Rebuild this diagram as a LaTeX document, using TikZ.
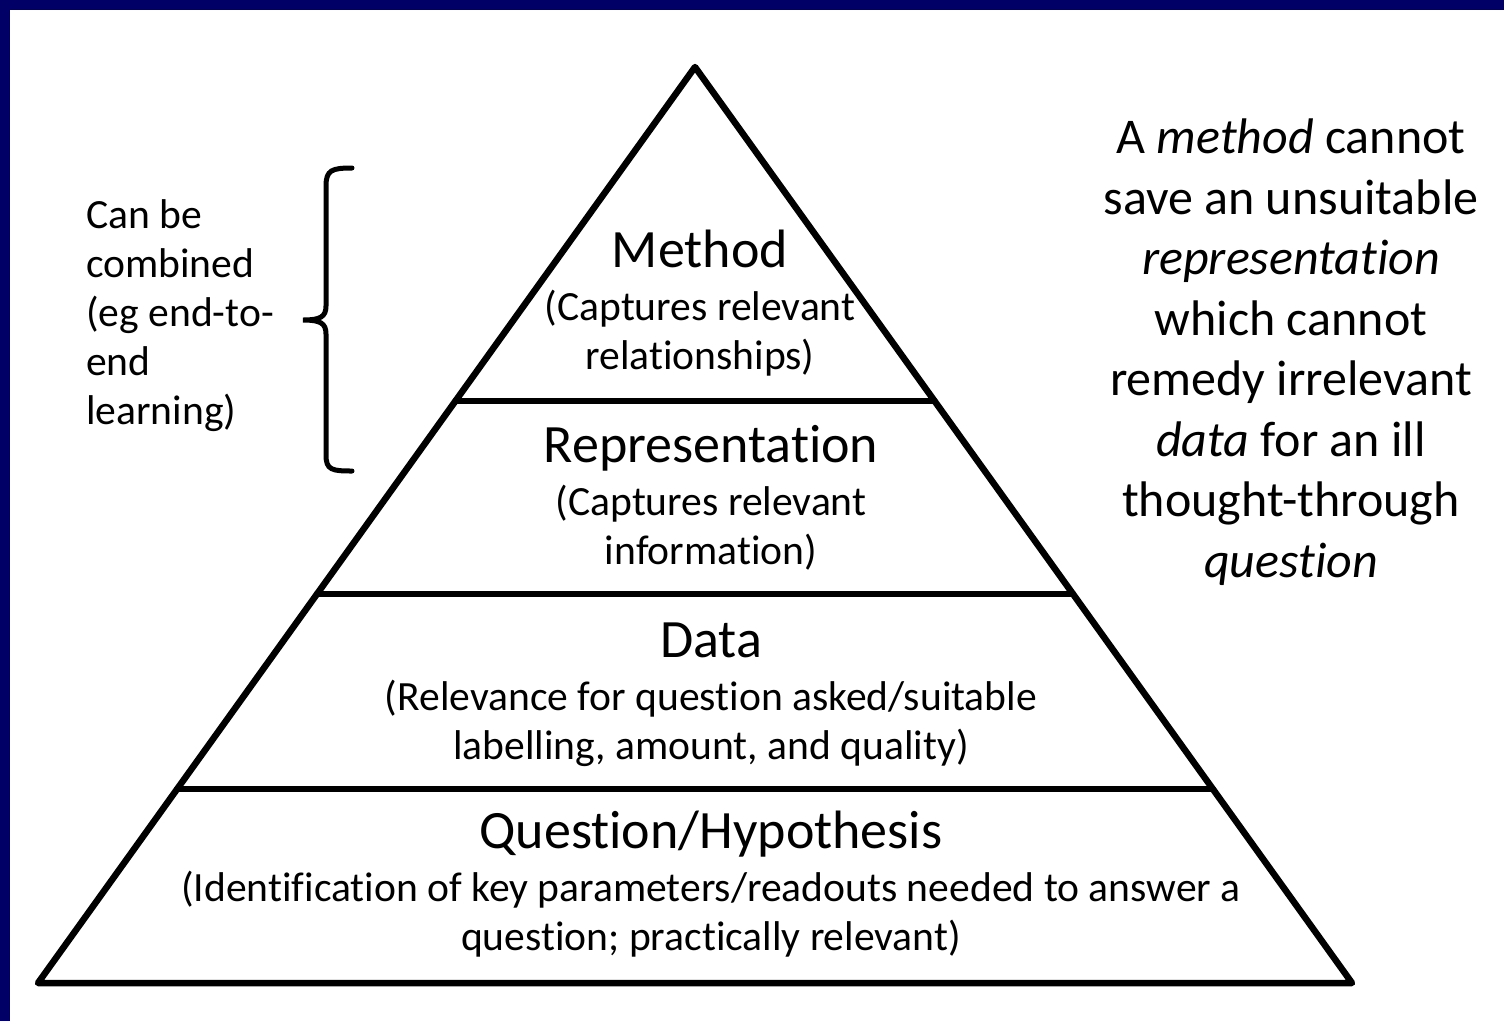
\documentclass[tikz,border=0pt]{standalone}
\usepackage{fontspec}
\setmainfont{Carlito}[RawFeature={-liga;-clig;-dlig;-calt}]
\usetikzlibrary{calc}
\definecolor{slideblue}{RGB}{0,0,102}
\tikzset{
  tiertitle/.style={anchor=base, inner sep=0pt, font=\fontsize{54}{60}\selectfont},
  tiernote/.style={anchor=base, inner sep=0pt, align=center, font=\fontsize{41.6}{49}\selectfont},
  sidenote/.style={anchor=base, inner sep=0pt, align=center, font=\fontsize{50}{60.5}\selectfont},
  tierline/.style={line width=6.5pt, line join=round, line cap=round}
}
\begin{document}
\begin{tikzpicture}[x=1pt, y=-1pt] % pyramid, one px = one pt
\useasboundingbox (0,0) rectangle (1504,1021);
\fill[slideblue] (0,0) rectangle (1504,1021);
\fill[white] (10,10) rectangle (1504,1021);
% corners of the pyramid
\coordinate (apex) at (695,67);
\coordinate (bl) at (38,983);
\coordinate (br) at (1352,983);
\draw[tierline] (apex) -- (bl) -- (br) -- cycle;
\foreach \t in {0.3646, 0.5753, 0.7882}
    \draw[tierline] ($(apex)!\t!(bl)$) -- ($(apex)!\t!(br)$);
% tiers (base of a note = baseline of its last line)
\node[tiertitle] (method) at (700,267) {Method};
\node[tiernote] (methodnote) at ($(method.base)+(0,102)$) {(Captures relevant\\relationships)};
\node[tiertitle] (repr) at (711,462) {Representation};
\node[tiernote] (reprnote) at ($(repr.base)+(0,102)$) {(Captures relevant\\information)};
\node[tiertitle] (data) at (711,657) {Data};
\node[tiernote] (datanote) at ($(data.base)+(0,102)$) {(Relevance for question asked/suitable\\labelling, amount, and quality)};
\node[tiertitle] (question) at (711,848) {Question/Hypothesis};
\node[tiernote] (questionnote) at ($(question.base)+(0,102)$) {(Identification of key parameters/readouts needed to answer a\\question; practically relevant)};
% brace on the left
\draw[line width=5pt, line cap=round] (352,168) .. controls (332,168) and (326,170) .. (326,186) -- (326,306)
    .. controls (326,317) and (320,320) .. (303,320) .. controls (320,320) and (326,323) .. (326,334)
    -- (326,455) .. controls (326,470) and (332,471) .. (352,471);
\node[tiernote, align=left, anchor=base west] (combined) at (86,424) {Can be\\combined\\(eg end-to-\\end\\learning)};
% note on the right
\node[sidenote] (moral) at (1291,577) {A \textit{method} cannot\\save an unsuitable\\\textit{representation}\\which cannot\\remedy irrelevant\\\textit{data} for an ill\\thought-through\\\textit{question}};
\end{tikzpicture}
\end{document}
